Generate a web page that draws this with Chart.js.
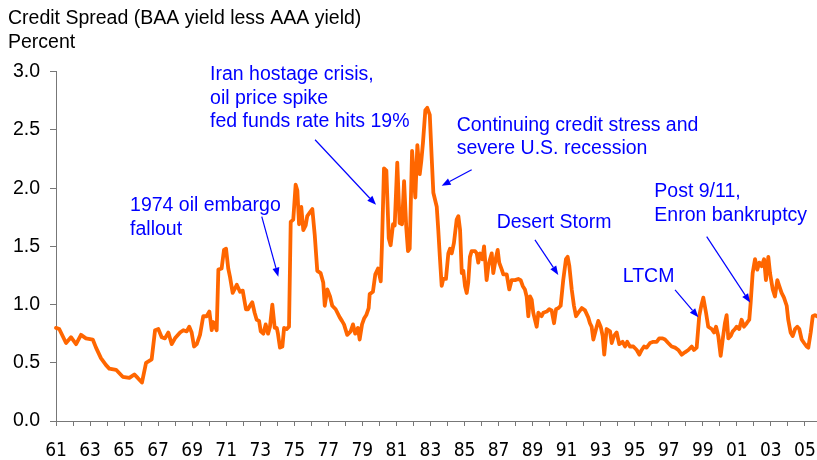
<!DOCTYPE html>
<html>
<head>
<meta charset="utf-8">
<script src="https://cdn.jsdelivr.net/npm/chart.js@4.4.1/dist/chart.umd.min.js"></script>
<style>
  body { margin: 0; background: #fff; }
  #wrap { width: 817px; height: 460px; position: relative; }
</style>
</head>
<body>
<div id="wrap"><canvas id="spreadChart"></canvas></div>
<script>
// dates (decimal years) and spread values
const dates = [
  1961.00, 1961.19, 1961.59, 1961.88, 1962.18, 1962.47, 1962.76, 1963.16, 1963.35, 1963.64,
  1963.94, 1964.13, 1964.53, 1964.92, 1965.31, 1965.60, 1965.80, 1966.05, 1966.29, 1966.62,
  1966.82, 1967.01, 1967.21, 1967.40, 1967.60, 1967.80, 1967.99, 1968.29, 1968.48, 1968.68,
  1968.83, 1968.97, 1969.11, 1969.27, 1969.46, 1969.65, 1969.85, 1970.01, 1970.15, 1970.24,
  1970.44, 1970.54, 1970.73, 1970.87, 1970.99, 1971.12, 1971.22, 1971.38, 1971.62, 1971.81,
  1971.97, 1972.16, 1972.28, 1972.44, 1972.53, 1972.67, 1972.79, 1972.93, 1973.03, 1973.18,
  1973.32, 1973.46, 1973.57, 1973.71, 1973.85, 1973.97, 1974.04, 1974.16, 1974.30, 1974.40,
  1974.55, 1974.69, 1974.79, 1974.94, 1975.08, 1975.18, 1975.28, 1975.41, 1975.53, 1975.67,
  1975.76, 1975.96, 1976.06, 1976.20, 1976.35, 1976.55, 1976.70, 1976.79, 1976.94, 1977.10,
  1977.23, 1977.43, 1977.67, 1977.80, 1977.92, 1978.11, 1978.31, 1978.45, 1978.58, 1978.74,
  1978.84, 1978.98, 1979.10, 1979.23, 1979.37, 1979.43, 1979.62, 1979.76, 1979.92, 1980.08,
  1980.15, 1980.27, 1980.41, 1980.55, 1980.66, 1980.80, 1980.90, 1981.05, 1981.19, 1981.33,
  1981.45, 1981.58, 1981.68, 1981.78, 1981.92, 1982.11, 1982.23, 1982.37, 1982.46, 1982.56,
  1982.70, 1982.81, 1982.96, 1983.07, 1983.17, 1983.37, 1983.46, 1983.56, 1983.66, 1983.75,
  1983.91, 1984.05, 1984.15, 1984.25, 1984.38, 1984.54, 1984.64, 1984.74, 1984.84, 1984.93,
  1985.03, 1985.13, 1985.22, 1985.32, 1985.42, 1985.62, 1985.72, 1985.81, 1985.91, 1986.05,
  1986.15, 1986.30, 1986.40, 1986.50, 1986.60, 1986.69, 1986.83, 1986.95, 1987.04, 1987.19,
  1987.28, 1987.48, 1987.63, 1987.77, 1987.97, 1988.16, 1988.30, 1988.42, 1988.55, 1988.65,
  1988.75, 1988.85, 1988.95, 1989.04, 1989.14, 1989.24, 1989.34, 1989.53, 1989.63, 1989.83,
  1989.98, 1990.12, 1990.26, 1990.38, 1990.51, 1990.65, 1990.80, 1990.96, 1991.06, 1991.16,
  1991.30, 1991.43, 1991.55, 1991.69, 1991.89, 1992.08, 1992.27, 1992.37, 1992.47, 1992.57,
  1992.73, 1992.86, 1993.00, 1993.12, 1993.21, 1993.35, 1993.55, 1993.65, 1993.78, 1993.94,
  1994.09, 1994.29, 1994.43, 1994.56, 1994.72, 1994.92, 1995.12, 1995.27, 1995.41, 1995.55,
  1995.70, 1995.90, 1996.09, 1996.29, 1996.44, 1996.64, 1996.78, 1996.97, 1997.17, 1997.37,
  1997.56, 1997.76, 1997.95, 1998.15, 1998.35, 1998.48, 1998.64, 1998.79, 1998.91, 1999.03,
  1999.19, 1999.32, 1999.52, 1999.66, 1999.78, 1999.91, 2000.05, 2000.17, 2000.30, 2000.40,
  2000.50, 2000.64, 2000.76, 2000.89, 2000.99, 2001.14, 2001.28, 2001.42, 2001.58, 2001.73,
  2001.81, 2001.93, 2002.07, 2002.20, 2002.32, 2002.46, 2002.60, 2002.71, 2002.85, 2002.95,
  2003.11, 2003.24, 2003.38, 2003.49, 2003.63, 2003.77, 2003.93, 2004.02, 2004.16, 2004.28,
  2004.42, 2004.55, 2004.67, 2004.81, 2004.95, 2005.10, 2005.20, 2005.34, 2005.46, 2005.59,
  2005.71
];
const spread = [
  0.80, 0.79, 0.67, 0.72, 0.66, 0.74, 0.71, 0.70, 0.63, 0.54,
  0.48, 0.45, 0.44, 0.38, 0.37, 0.40, 0.37, 0.33, 0.50, 0.53,
  0.78, 0.79, 0.72, 0.71, 0.76, 0.66, 0.71, 0.76, 0.78, 0.77,
  0.81, 0.76, 0.64, 0.66, 0.74, 0.90, 0.90, 0.94, 0.78, 0.85,
  0.78, 1.30, 1.31, 1.47, 1.48, 1.31, 1.24, 1.10, 1.17, 1.11,
  1.12, 0.96, 0.96, 1.00, 1.02, 0.93, 0.87, 0.86, 0.77, 0.75,
  0.83, 0.75, 0.81, 1.00, 0.80, 0.80, 0.75, 0.63, 0.64, 0.80,
  0.79, 0.81, 1.71, 1.73, 2.03, 1.98, 1.69, 1.84, 1.64, 1.68,
  1.76, 1.80, 1.82, 1.60, 1.29, 1.27, 1.19, 0.99, 1.13, 1.07,
  0.99, 0.96, 0.89, 0.86, 0.83, 0.74, 0.77, 0.83, 0.75, 0.80,
  0.70, 0.83, 0.88, 0.91, 0.97, 1.09, 1.11, 1.26, 1.31, 1.20,
  1.51, 2.17, 2.15, 1.57, 1.51, 1.69, 1.68, 2.22, 1.70, 1.69,
  2.06, 1.66, 1.46, 1.48, 2.32, 1.92, 2.37, 2.12, 2.23, 2.39,
  2.67, 2.69, 2.63, 2.27, 1.96, 1.84, 1.64, 1.39, 1.16, 1.22,
  1.22, 1.44, 1.48, 1.44, 1.53, 1.73, 1.76, 1.64, 1.27, 1.29,
  1.16, 1.10, 1.19, 1.41, 1.46, 1.46, 1.44, 1.36, 1.44, 1.39,
  1.50, 1.21, 1.33, 1.39, 1.44, 1.27, 1.39, 1.47, 1.36, 1.30,
  1.26, 1.26, 1.13, 1.21, 1.21, 1.22, 1.21, 1.16, 1.13, 1.07,
  0.90, 1.07, 1.04, 0.93, 0.87, 0.81, 0.93, 0.90, 0.93, 0.94,
  0.96, 0.95, 0.84, 0.96, 0.97, 0.99, 1.21, 1.39, 1.41, 1.33,
  1.13, 0.99, 0.90, 0.93, 0.97, 0.95, 0.89, 0.84, 0.81, 0.70,
  0.79, 0.86, 0.81, 0.73, 0.57, 0.79, 0.77, 0.67, 0.73, 0.76,
  0.66, 0.68, 0.64, 0.68, 0.64, 0.64, 0.61, 0.57, 0.61, 0.64,
  0.63, 0.67, 0.68, 0.68, 0.71, 0.71, 0.70, 0.67, 0.64, 0.63,
  0.61, 0.57, 0.59, 0.61, 0.64, 0.61, 0.63, 0.90, 0.99, 1.06,
  0.93, 0.81, 0.79, 0.76, 0.81, 0.73, 0.56, 0.70, 0.84, 0.91,
  0.71, 0.73, 0.77, 0.79, 0.81, 0.79, 0.87, 0.81, 0.84, 0.87,
  1.01, 1.27, 1.39, 1.30, 1.36, 1.33, 1.39, 1.21, 1.41, 1.27,
  1.13, 1.07, 1.21, 1.16, 1.10, 1.06, 0.99, 0.87, 0.76, 0.73,
  0.79, 0.81, 0.79, 0.70, 0.67, 0.64, 0.63, 0.76, 0.90, 0.91,
  0.90
];
const yTicks = [0, 0.5, 1.0, 1.5, 2.0, 2.5, 3.0];
const firstYear = 1961;
const lastYear = 2005;

const FONT = '"Liberation Sans", Arial, sans-serif';
const NARROW = '"Liberation Sans Narrow", "Arial Narrow", "DejaVu Sans Condensed", sans-serif';
const axisGrey = '#777777';

// event notes: text anchor and arrow in data units (year, percent)
const notes = [
  { lines: ['Iran hostage crisis,', 'oil price spike', 'fed funds rate hits 19%'],
    x: 1970.05, y: 2.93, from: [1976.22, 2.416], to: [1979.80, 1.857] },
  { lines: ['1974 oil embargo', 'fallout'],
    x: 1965.35, y: 1.805, from: [1973.09, 1.756], to: [1974.06, 1.240] },
  { lines: ['Continuing credit stress and', 'severe U.S. recession'],
    x: 1984.54, y: 2.493, from: [1985.42, 2.158], to: [1983.66, 2.020] },
  { lines: ['Desert Storm'],
    x: 1986.89, y: 1.657, from: [1989.14, 1.556], to: [1990.51, 1.255] },
  { lines: ['LTCM'],
    x: 1994.30, y: 1.197, from: [1997.37, 1.126], to: [1998.74, 0.891] },
  { lines: ['Post 9/11,', 'Enron bankruptcy'],
    x: 1996.15, y: 1.923, from: [1999.23, 1.584], to: [2001.78, 1.017] }
];

const notesPlugin = {
  id: 'notes',
  afterDatasetsDraw(chart) {
    const ctx = chart.ctx;
    const xs = chart.scales.x;
    const ys = chart.scales.y;
    ctx.save();
    ctx.fillStyle = '#0000ff';
    ctx.strokeStyle = '#0000ff';
    ctx.font = '19.5px ' + FONT;
    ctx.textBaseline = 'alphabetic';
    ctx.textAlign = 'left';
    notes.forEach(n => {
      const tx = xs.getPixelForValue(n.x);
      const ty = ys.getPixelForValue(n.y);
      n.lines.forEach((line, i) => ctx.fillText(line, tx, ty + i * 23.7));

      const x0 = xs.getPixelForValue(n.from[0]), y0 = ys.getPixelForValue(n.from[1]);
      const x1 = xs.getPixelForValue(n.to[0]), y1 = ys.getPixelForValue(n.to[1]);
      const ang = Math.atan2(y1 - y0, x1 - x0);
      const head = 9, half = 3.5;
      ctx.lineWidth = 1.2;
      ctx.beginPath();
      ctx.moveTo(x0, y0);
      ctx.lineTo(x1 - Math.cos(ang) * head, y1 - Math.sin(ang) * head);
      ctx.stroke();
      ctx.beginPath();
      ctx.moveTo(x1, y1);
      ctx.lineTo(x1 - Math.cos(ang) * head - Math.sin(ang) * half, y1 - Math.sin(ang) * head + Math.cos(ang) * half);
      ctx.lineTo(x1 - Math.cos(ang) * head + Math.sin(ang) * half, y1 - Math.sin(ang) * head - Math.cos(ang) * half);
      ctx.closePath();
      ctx.fill();
    });
    ctx.restore();
  }
};

const points = dates.map((d, i) => ({ x: d, y: spread[i] }));

new Chart(document.getElementById('spreadChart'), {
  type: 'line',
  data: {
    datasets: [{
      label: 'BAA less AAA',
      data: points,
      borderColor: '#ff6600',
      borderWidth: 3.8,
      borderJoinStyle: 'round',
      borderCapStyle: 'round',
      pointRadius: 0,
      tension: 0,
      fill: false,
      clip: false
    }]
  },
  options: {
    responsive: true,
    maintainAspectRatio: false,
    animation: false,
    layout: { padding: { left: 8, right: 0, top: 0, bottom: 0 } },
    plugins: {
      legend: { display: false },
      tooltip: { enabled: false },
      title: {
        display: true,
        align: 'start',
        text: ['Credit Spread (BAA yield less AAA yield)', 'Percent'],
        color: '#000',
        font: { family: FONT, size: 19.5, weight: 'normal', lineHeight: 1.25 },
        padding: { top: 6, bottom: 17 }
      }
    },
    scales: {
      x: {
        type: 'linear',
        min: firstYear,
        max: 2005.71,
        afterBuildTicks(scale) {
          const t = [];
          for (let yr = firstYear; yr <= lastYear; yr++) t.push({ value: yr });
          scale.ticks = t;
        },
        afterFit(scale) {
          // plot runs to the right edge, like the original
          scale.height = 39;
          scale.paddingLeft = 0;
          scale.paddingRight = 0;
        },
        ticks: {
          autoSkip: false,
          maxRotation: 0,
          minRotation: 0,
          padding: 14,
          color: '#000',
          font: { family: NARROW, size: 19 },
          callback: v => (v % 2 === 1 ? String(v).slice(2) : '')
        },
        grid: { drawOnChartArea: false, drawTicks: true, tickLength: 5, color: axisGrey },
        border: { display: true, color: axisGrey, width: 1 }
      },
      y: {
        min: 0,
        max: 3,
        afterBuildTicks(scale) { scale.ticks = yTicks.map(v => ({ value: v })); },
        afterFit(scale) { scale.width = 48; },
        ticks: {
          padding: 10,
          color: '#000',
          font: { family: FONT, size: 19.5 },
          callback: v => v.toFixed(1)
        },
        grid: { drawOnChartArea: false, drawTicks: true, tickLength: 6, color: axisGrey },
        border: { display: true, color: axisGrey, width: 1 }
      }
    }
  },
  plugins: [notesPlugin]
});
</script>
</body>
</html>
